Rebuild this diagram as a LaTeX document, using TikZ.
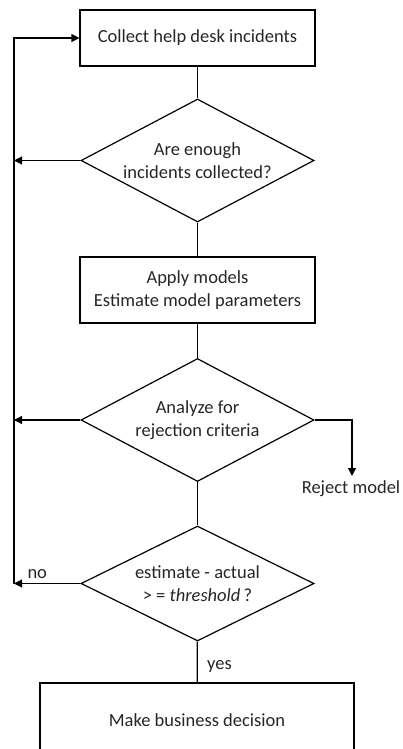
\documentclass[tikz,border=0pt]{standalone}
\usepackage{fontspec}
\setmainfont{Carlito}
\usetikzlibrary{shapes.geometric,arrows.meta}
\begin{document}
\begin{tikzpicture}[x=1pt,y=-1pt,
  every node/.style={font=\fontsize{18.5}{23}\selectfont, text=black!85},
  every label/.style={font=\fontsize{18.5}{23}\selectfont, text=black!85, align=center},
  procbox/.style={draw, line width=1.2pt, inner sep=0pt, align=center},
  decision/.style={draw, diamond, line width=1.2pt, inner sep=0pt,
    minimum width=233pt, minimum height=123pt},
  flow/.style={line width=1.2pt},
  arr/.style={flow, -{Triangle[length=8pt,width=8pt]}}]
\useasboundingbox (0,0) rectangle (403,749);

% process steps and decisions
\node[procbox, minimum width=235pt, minimum height=56pt] (collect) at (197.5,38) {Collect help desk incidents};
\node[decision, label={center:Are enough\\incidents collected?}] (enough) at (197.5,160.5) {};
\node[procbox, minimum width=235pt, minimum height=66pt] (apply) at (197.5,290) {Apply models\\Estimate model parameters};
\node[decision, label={center:Analyze for\\rejection criteria}] (analyze) at (197.5,420) {};
\node[decision, minimum height=115pt,
  label={center:estimate - actual\\\textgreater{} = \textit{threshold}\,?}] (thresh) at (197.5,583.5) {};
\node[procbox, minimum width=314pt, minimum height=90pt] (decide) at (197,728) {};
\node (decidetxt) at (197,720) {Make business decision};
\node (reject) at (351,489) {Reject model};

% feedback bus on the left
\coordinate (busTop) at (14,38);
\coordinate (busA) at (14,160.5);
\coordinate (busB) at (14,420);
\coordinate (busC) at (14,583.5);
\coordinate (rejTurn) at (352,420);
\coordinate (rejEnd) at (352,476);

% main flow
\draw[flow] (collect) -- (enough);
\draw[flow] (enough) -- (apply);
\draw[flow] (apply) -- (analyze);
\draw[flow] (analyze) -- (thresh);
\draw[flow] (thresh) -- node[pos=0.6, right=6pt] {yes} (decide);

% loops back and rejection
\draw[arr] (enough.west) -- (busA);
\draw[arr] (analyze.west) -- (busB);
\draw[arr] (thresh.west) -- node[pos=0.65, above=1pt] {no} (busC);
\draw[arr] (busC) -- (busTop) -- (collect.west);
\draw[arr] (analyze.east) -- (rejTurn) -- (rejEnd);
\end{tikzpicture}
\end{document}
